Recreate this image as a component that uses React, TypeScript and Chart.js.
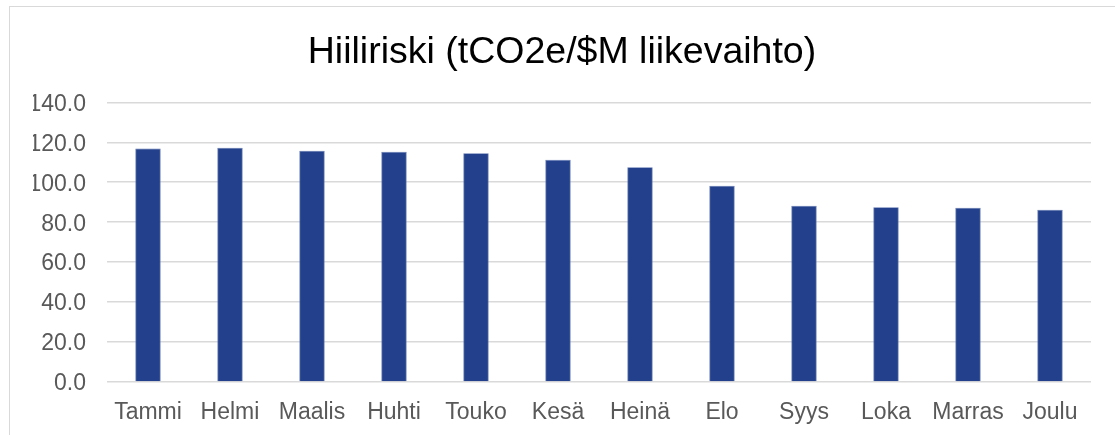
import React, { useEffect, useRef } from "react";
import { Chart, registerables } from "chart.js";

Chart.register(...registerables);

const titleText = "Hiiliriski (tCO2e/$M liikevaihto)";
const months = ["Tammi", "Helmi", "Maalis", "Huhti", "Touko", "Kesä", "Heinä", "Elo", "Syys", "Loka", "Marras", "Joulu"];
const carbonRisk = [116.9, 117.3, 115.8, 115.2, 114.5, 111.2, 107.5, 98.2, 88.2, 87.5, 87.2, 86.2];
const yMin = 0;
const yMax = 140;
const yStep = 20;

const FONT = "'Liberation Sans', Arial, sans-serif";

export default function App() {
  const ref = useRef<HTMLCanvasElement | null>(null);

  useEffect(() => {
    if (!ref.current) return;
    document.body.style.overflow = "hidden";
    const chart = new Chart(ref.current, {
      type: "bar",
      data: {
        labels: months,
        datasets: [
          {
            data: carbonRisk,
            backgroundColor: "#22408C",
            borderColor: "#5d74b0",
            borderWidth: 0.8,
            barPercentage: 1,
            categoryPercentage: 0.31,
          },
        ],
      },
      options: {
        responsive: true,
        maintainAspectRatio: false,
        animation: false,
        layout: { padding: { top: 0, right: 24, bottom: 0, left: 33 } },
        plugins: {
          legend: { display: false },
          tooltip: { enabled: false },
          title: {
            display: true,
            text: titleText,
            color: "#000000",
            font: { family: FONT, size: 37.5, weight: "normal" },
            padding: { top: 30, bottom: 27.3 },
          },
        },
        scales: {
          x: {
            grid: { display: false },
            border: { display: false },
            ticks: {
              color: "#595959",
              font: { family: FONT, size: 23 },
              padding: 9,
              maxRotation: 0,
              autoSkip: false,
            },
            afterFit: (scale: any) => {
              scale.height = 53;
            },
          },
          y: {
            min: yMin,
            max: yMax,
            grid: { color: "#d9d9d9", lineWidth: 1.5, drawTicks: false },
            border: { display: false },
            ticks: {
              stepSize: yStep,
              color: "#595959",
              font: { family: FONT, size: 23 },
              padding: 21,
              labelOffset: 2,
              callback: (v: any) => Number(v).toFixed(1),
            },
            afterFit: (scale: any) => {
              scale.width = 74;
            },
          },
        },
      },
    });
    return () => chart.destroy();
  }, []);

  return (
    <>
      <div
        style={{
          position: "fixed",
          left: 9,
          top: 6,
          width: 1106,
          height: 429,
          borderLeft: "1px solid #d9d9d9",
          borderTop: "1px solid #d9d9d9",
          boxSizing: "border-box",
          background: "#fff",
        }}
      />
      <div style={{ position: "fixed", left: 0, top: 0, width: 1115, height: 435 }}>
        <canvas ref={ref} />
      </div>
    </>
  );
}
